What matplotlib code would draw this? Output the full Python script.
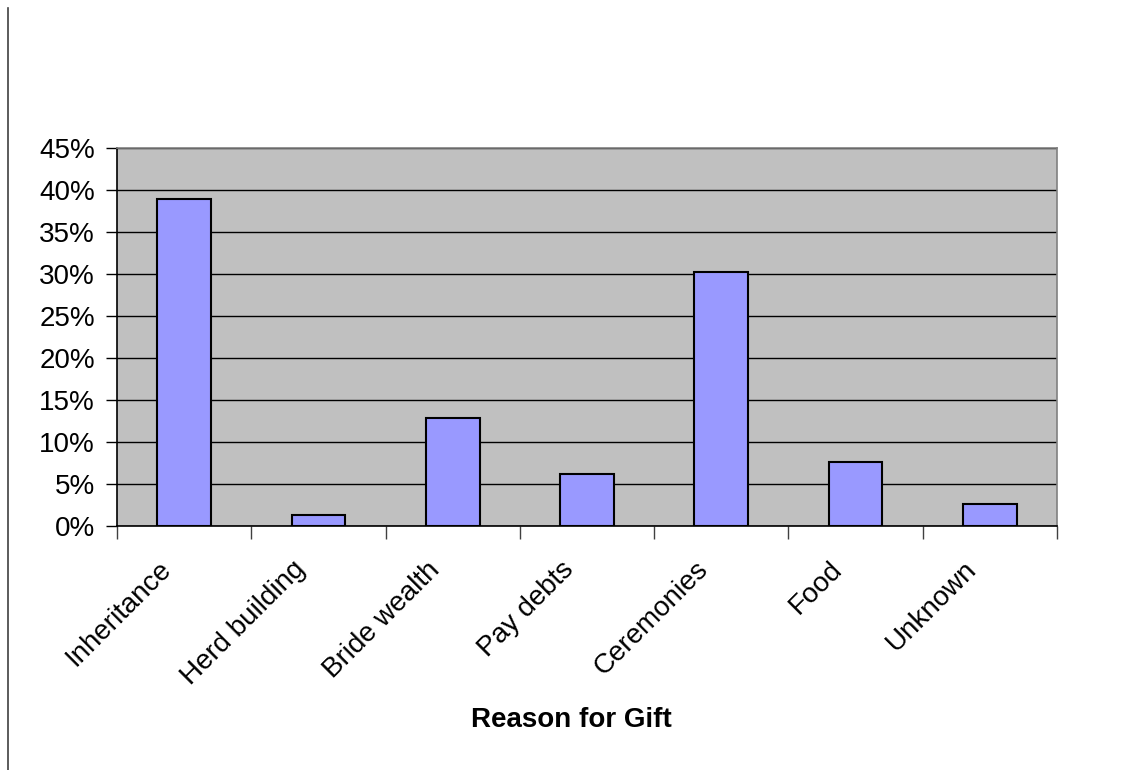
import numpy as np
import matplotlib.pyplot as plt
from matplotlib.ticker import FuncFormatter
from matplotlib.transforms import ScaledTranslation

plt.rcParams['font.family'] = ['Liberation Sans', 'DejaVu Sans']

reasons = ['Inheritance', 'Herd building', 'Bride wealth', 'Pay debts',
           'Ceremonies', 'Food', 'Unknown']
share = [0.389, 0.013, 0.129, 0.062, 0.302, 0.076, 0.026]
yticks = [0, 0.05, 0.10, 0.15, 0.20, 0.25, 0.30, 0.35, 0.40, 0.45]

fig = plt.figure(figsize=(11.42, 7.70), dpi=100)
ax = fig.add_axes([117/1142, 1-526/770, (1057-117)/1142, (526-148)/770])
ax.set_facecolor('#c0c0c0')

x = np.arange(len(reasons))
ax.bar(x, share, width=0.4, color='#9999ff', edgecolor='black', linewidth=1.5, zorder=3)

ax.set_xlim(-0.5, len(reasons)-0.5)
ax.set_ylim(0, 0.45)
ax.set_yticks(yticks)
ax.yaxis.set_major_formatter(FuncFormatter(lambda v, p: '%d%%' % round(v*100)))
ax.grid(axis='y', color='black', linewidth=1, zorder=1)
ax.tick_params(axis='y', length=8, width=1, labelsize=20, pad=8)

# categories sit between ticks, ticks on boundaries
ax.set_xticks(np.arange(len(reasons)+1) - 0.5)
ax.set_xticklabels([])
ax.tick_params(axis='x', length=9, width=1, color='#404040')
ax.set_xticks(x, minor=True)
ax.set_xticklabels(reasons, minor=True, rotation=45, ha='right', rotation_mode='anchor', fontsize=20)
ax.tick_params(axis='x', which='minor', length=0, pad=22)
shift = ScaledTranslation(-0.26, 0, fig.dpi_scale_trans)
for lab in ax.get_xticklabels(minor=True):
    lab.set_transform(lab.get_transform() + shift)

for s in ['left', 'bottom']:
    ax.spines[s].set_color('black')
    ax.spines[s].set_linewidth(1.2)
for s in ['top', 'right']:
    ax.spines[s].set_color('#808080')
    ax.spines[s].set_linewidth(1.2)

fig.text(571/1142, 1-720/770, 'Reason for Gift', fontsize=20, fontweight='bold',
         ha='center', va='center')

fig.add_artist(plt.Line2D([8/1142, 8/1142], [0, 1-8/770], color='#404040', linewidth=1.2))

fig.savefig('out.png', dpi=100)
